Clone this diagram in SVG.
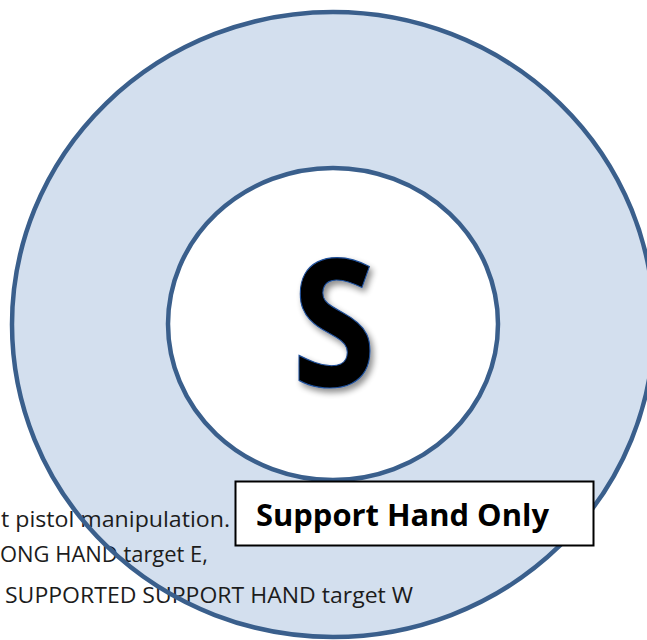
<svg xmlns="http://www.w3.org/2000/svg" width="647" height="640" viewBox="0 0 647 640">
  <style>
    .ring { fill: none; stroke: #3a5f8c; stroke-width: 4.5; }
    .body { font-family: "Open Sans", "Liberation Sans", sans-serif; font-size: 21px; fill: #1c1c1c; }
    .label { font-family: "Open Sans", "Liberation Sans", sans-serif; font-weight: bold; font-size: 31px; fill: #000; }
  </style>
  <defs>
    <filter id="soft-shadow" x="-30%" y="-30%" width="160%" height="160%">
      <feGaussianBlur in="SourceAlpha" stdDeviation="3"/>
      <feOffset dx="3" dy="4" result="blur"/>
      <feComponentTransfer in="blur" result="shade">
        <feFuncA type="linear" slope="0.45"/>
      </feComponentTransfer>
      <feMerge>
        <feMergeNode in="shade"/>
        <feMergeNode in="SourceGraphic"/>
      </feMerge>
    </filter>
  </defs>

  <!-- background -->
  <rect width="647" height="640" fill="#ffffff"/>

  <!-- outer ring fill and inner disc -->
  <g id="outer-ring">
    <ellipse cx="333" cy="324.5" rx="321" ry="312.5" fill="#d3dfee"/>
  </g>
  <g id="inner-disc">
    <ellipse cx="333" cy="324" rx="165" ry="156" fill="#ffffff"/>
  </g>

  <!-- running text behind the ring outlines -->
  <g id="notes">
    <text class="body" x="1" y="527" textLength="229" lengthAdjust="spacingAndGlyphs">t pistol manipulation.</text>
    <text class="body" x="0" y="562" textLength="208" lengthAdjust="spacingAndGlyphs">ONG HAND target E,</text>
    <text class="body" x="5" y="603" textLength="408" lengthAdjust="spacingAndGlyphs">SUPPORTED SUPPORT HAND target W</text>
  </g>

  <!-- ring outlines -->
  <g id="ring-outlines">
    <ellipse class="ring" cx="333" cy="324.5" rx="321" ry="312.5"/>
    <ellipse class="ring" cx="333" cy="324" rx="165" ry="156"/>
  </g>

  <!-- centre letter -->
  <g id="center-letter">
    <text x="334" y="386" text-anchor="middle" font-family="Open Sans, Liberation Sans, sans-serif" font-weight="bold" font-size="178" fill="#000" stroke="#1f4f9a" stroke-width="1.2" textLength="84" lengthAdjust="spacingAndGlyphs" filter="url(#soft-shadow)">S</text>
  </g>

  <!-- caption box -->
  <g id="caption">
    <rect x="235.5" y="481.5" width="358" height="64" fill="#ffffff" stroke="#000" stroke-width="2"/>
    <text class="label" x="256" y="526" textLength="293" lengthAdjust="spacingAndGlyphs">Support Hand Only</text>
  </g>
</svg>
